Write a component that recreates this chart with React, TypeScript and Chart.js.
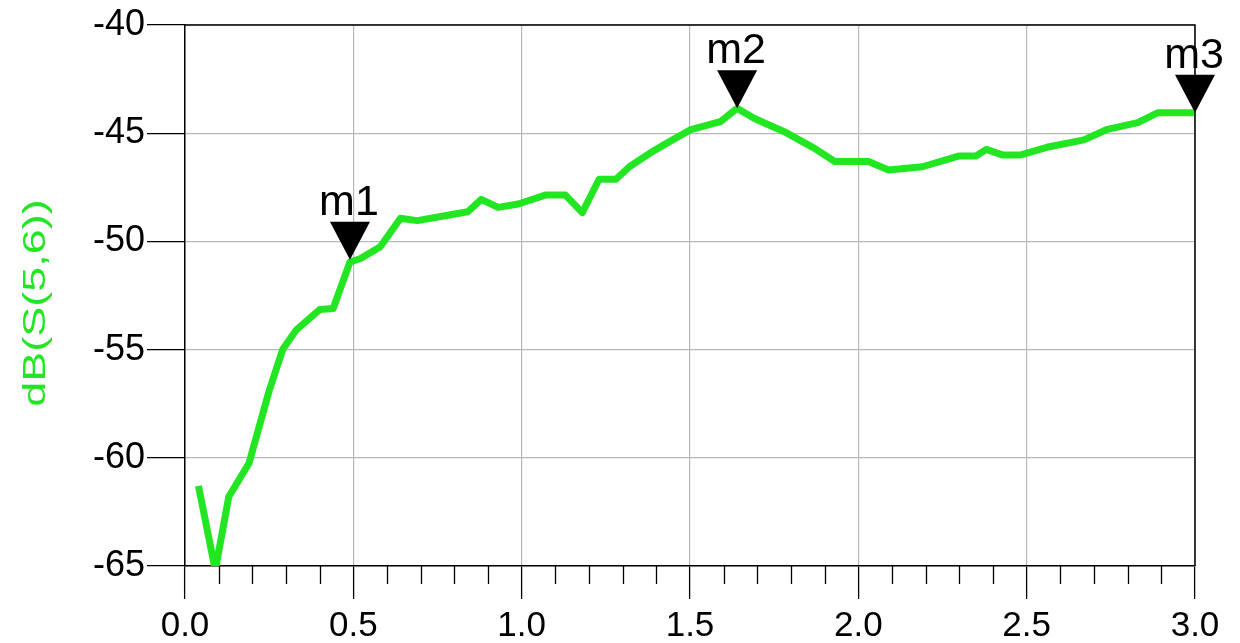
import React, { useEffect, useRef } from 'react';
import { Chart, registerables } from 'chart.js';

Chart.register(...registerables);

// ---- data ----
const freqGHz = [
  0.04, 0.09, 0.13, 0.19, 0.25, 0.29, 0.33, 0.40, 0.44, 0.49, 0.52, 0.58,
  0.64, 0.69, 0.76, 0.84, 0.88, 0.93, 0.99, 1.07, 1.13, 1.18, 1.23, 1.28,
  1.32, 1.38, 1.43, 1.50, 1.59, 1.64, 1.69, 1.78, 1.87, 1.93, 2.03, 2.09,
  2.19, 2.30, 2.35, 2.38, 2.43, 2.48, 2.56, 2.67, 2.74, 2.83, 2.89, 3.00,
];
const dbS56 = [
  -61.3, -65.2, -61.8, -60.25, -56.9, -55.0, -54.1, -53.15, -53.1, -50.95, -50.8, -50.25,
  -48.93, -49.04, -48.85, -48.63, -48.06, -48.43, -48.27, -47.86, -47.86, -48.67, -47.13, -47.13,
  -46.55, -45.93, -45.47, -44.85, -44.47, -43.85, -44.31, -44.93, -45.7, -46.31, -46.31, -46.7,
  -46.55, -46.05, -46.05, -45.75, -46.01, -46.01, -45.65, -45.31, -44.82, -44.51, -44.05, -44.05,
];
const markerNames = ['m1', 'm2', 'm3'];
const markerFreq = [0.49, 1.64, 3.0];
const markerDb = [-50.85, -43.85, -44.05];
const minorTicks = [
  0.1, 0.2, 0.3, 0.4, 0.6, 0.7, 0.8, 0.9, 1.1, 1.2, 1.3, 1.4,
  1.6, 1.7, 1.8, 1.9, 2.1, 2.2, 2.3, 2.4, 2.6, 2.7, 2.8, 2.9,
];
const yTitle = 'dB(S(5,6))';

const FONT = '"Liberation Sans", Arial, Helvetica, sans-serif';
const GREEN = '#22e622';

const decorPlugin = {
  id: 'decor',
  afterDraw(chart: any) {
    const { ctx, chartArea: a, scales } = chart;
    const xs = scales.x;
    const ys = scales.y;
    ctx.save();
    // top and right frame
    ctx.strokeStyle = '#000';
    ctx.lineWidth = 1.5;
    ctx.beginPath();
    ctx.moveTo(a.left, a.top);
    ctx.lineTo(a.right, a.top);
    ctx.lineTo(a.right, a.bottom);
    ctx.stroke();
    // minor ticks
    ctx.lineWidth = 1.3;
    ctx.beginPath();
    for (const v of minorTicks) {
      const px = Math.round(xs.getPixelForValue(v)) + 0.5;
      ctx.moveTo(px, a.bottom);
      ctx.lineTo(px, a.bottom + 18);
    }
    ctx.stroke();
    // markers
    ctx.fillStyle = '#000';
    ctx.font = `43px ${FONT}`;
    ctx.textAlign = 'center';
    ctx.textBaseline = 'alphabetic';
    for (let i = 0; i < markerNames.length; i++) {
      const px = xs.getPixelForValue(markerFreq[i]);
      const py = ys.getPixelForValue(markerDb[i]);
      ctx.beginPath();
      ctx.moveTo(px, py);
      ctx.lineTo(px - 20, py - 38);
      ctx.lineTo(px + 20, py - 38);
      ctx.closePath();
      ctx.fill();
      ctx.fillText(markerNames[i], px - 1, py - 45);
    }
    // y axis title (stretched like the reference)
    ctx.translate(36, 303);
    ctx.rotate(-Math.PI / 2);
    ctx.scale(1.45, 1);
    ctx.fillStyle = GREEN;
    ctx.font = `31px ${FONT}`;
    ctx.textAlign = 'center';
    ctx.textBaseline = 'middle';
    ctx.fillText(yTitle, 0, 0);
    ctx.restore();
  },
};

export default function App() {
  const ref = useRef<HTMLCanvasElement | null>(null);

  useEffect(() => {
    if (!ref.current) return;
    const chart = new Chart(ref.current, {
      type: 'line',
      data: {
        datasets: [
          {
            label: yTitle,
            data: freqGHz.map((f, i) => ({ x: f, y: dbS56[i] })),
            borderColor: GREEN,
            backgroundColor: GREEN,
            borderWidth: 7,
            pointRadius: 0,
            tension: 0,
            borderJoinStyle: 'round',
            borderCapStyle: 'butt',
          },
        ],
      },
      options: {
        animation: false,
        responsive: false,
        devicePixelRatio: 1,
        layout: { padding: { top: 25, right: 45, left: 0, bottom: 0 } },
        plugins: {
          legend: { display: false },
          tooltip: { enabled: false },
        },
        scales: {
          x: {
            type: 'linear',
            min: 0,
            max: 3,
            afterFit: (s: any) => {
              s.height = 77;
            },
            ticks: {
              stepSize: 0.5,
              autoSkip: false,
              maxRotation: 0,
              padding: 6,
              color: '#000',
              font: { family: FONT, size: 35 },
              callback: (v: any) => Number(v).toFixed(1),
            },
            grid: {
              color: '#b8b8b8',
              lineWidth: 1.2,
              tickColor: '#000',
              tickLength: 33,
              tickWidth: 1.3,
            },
            border: { color: '#000', width: 1.5 },
          },
          y: {
            type: 'linear',
            min: -65,
            max: -40,
            afterFit: (s: any) => {
              s.width = 185;
            },
            ticks: {
              stepSize: 5,
              padding: 2,
              color: '#000',
              font: { family: FONT, size: 36 },
            },
            grid: {
              color: '#b8b8b8',
              lineWidth: 1.2,
              tickColor: '#000',
              tickLength: 38,
              tickWidth: 1.3,
            },
            border: { color: '#000', width: 1.5 },
          },
        },
      },
      plugins: [decorPlugin],
    });
    return () => chart.destroy();
  }, []);

  return (
    <div style={{ position: 'fixed', left: 0, top: 0, width: 1240, height: 643, background: '#fff' }}>
      <canvas ref={ref} width={1240} height={643} style={{ display: 'block' }} />
    </div>
  );
}
